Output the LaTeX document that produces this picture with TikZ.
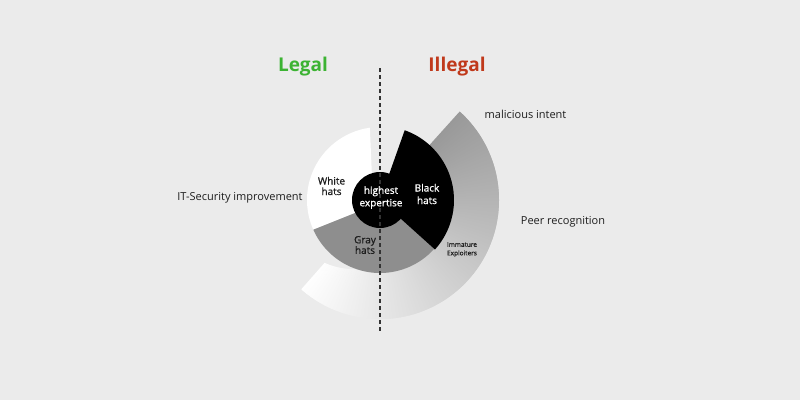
\documentclass[tikz,border=0pt]{standalone}
\usepackage{fontspec}
\setmainfont{Open Sans}
\newfontfamily\semib[FakeBold=1]{Open Sans}
\usetikzlibrary{calc}
\definecolor{bgc}{HTML}{EBEBEB}
\definecolor{ringc}{HTML}{999999}
\definecolor{grayhat}{HTML}{8E8E8E}
\definecolor{txt}{HTML}{1E1E1E}
\definecolor{legalc}{HTML}{3CB333}
\definecolor{illegalc}{HTML}{C0391B}
\definecolor{dashc}{HTML}{333333}
\tikzset{
  lbl/.style={text=txt, font=\fontsize{11}{13}\selectfont, inner sep=0pt},
  inlbl/.style={text=txt, font=\semib\fontsize{10}{10.5}\selectfont, align=center, inner sep=0pt},
  wlbl/.style={text=white, font=\semib\fontsize{10}{12.5}\selectfont, align=center, inner sep=0pt},
  smalllbl/.style={text=txt, font=\semib\fontsize{6.5}{8.5}\selectfont, align=center, inner sep=0pt},
  headlbl/.style={font=\bfseries\fontsize{19}{22}\selectfont, inner sep=0pt},
  divider/.style={draw=dashc, line width=1.1pt, dash pattern=on 4pt off 3pt}
}
\begin{document}
\begin{tikzpicture}[x=1pt,y=1pt]
\path[fill=bgc] (0,0) rectangle (800,400);
\useasboundingbox (0,0) rectangle (800,400);
\coordinate (C) at (380,200);
\begin{scope}[shift={(380,200)}]
  % outer gradient ring
  \foreach \t in {48,47.5,...,-130.5} {
    \pgfmathsetmacro\ff{(48-(\t))/180}
    \pgfmathsetmacro\pc{100*(1-\ff)}
    \pgfmathsetmacro\rin{(\t>-108) ? 73 : 73+(-108-(\t))/23*11}
    \fill[ringc!\pc!white] (\t:\rin) arc[start angle=\t, end angle=\t-0.9, radius=\rin]
      -- (\t-0.9:119) arc[start angle=\t-0.9, end angle=\t, radius=119] -- cycle;
  }
  % white hats
  \fill[white] (-7,0) -- (98:73) arc[start angle=98, end angle=204, radius=73] -- (0,-3) -- cycle;
  % gray hats
  \fill[grayhat] (0,-3) -- (204:73) arc[start angle=204, end angle=321, radius=73] -- cycle;
  % black hats
  \fill[black] (0,0) -- (-42:74) arc[start angle=-42, end angle=70.5, radius=74] -- cycle;
  % center
  \fill[black] (0,0) circle[radius=28];
\end{scope}
\coordinate (dtop) at (380,332);
\coordinate (dbot) at (380,67);
\draw[divider] (dtop) -- (dbot);

\node[headlbl, text=legalc] (legal) at (303,333) {Legal};
\node[headlbl, text=illegalc] (illegal) at (457,333) {Illegal};
\node[lbl] (mal) at (525.5,286) {malicious intent};
\node[lbl] (peer) at (563,178) {Peer recognition};
\node[lbl] (itsec) at (240,202) {IT-Security improvement};
\node[inlbl] (white) at (331.5,214) {White\\hats};
\node[wlbl] (center) at (381,202.5) {highest\\expertise};
\node[wlbl] (black) at (427,206) {Black\\hats};
\node[inlbl] (gray) at (365,155) {Gray\\hats};
\node[smalllbl] (imm) at (462,150.5) {Immature\\Exploiters};
\end{tikzpicture}
\end{document}
